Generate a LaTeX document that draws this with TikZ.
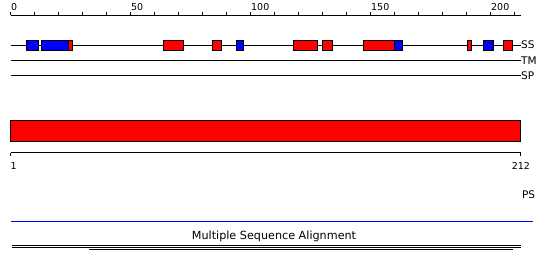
\documentclass[tikz,border=0pt]{standalone}
\usepackage{fontspec}
\setmainfont{DejaVu Sans}
\usepackage{tikz}
\usetikzlibrary{positioning}
\definecolor{ssred}{HTML}{FF0000}
\definecolor{ssblue}{HTML}{0000FF}

\begin{document}
\begin{tikzpicture}[x=1pt, y=-1pt, line width=1pt,
    ticklab/.style={font=\fontsize{9.5}{11}\selectfont, inner sep=0pt},
    tracklab/.style={font=\fontsize{10.5}{12}\selectfont, inner sep=0pt, anchor=west},
    ssbox/.style={draw=black, line width=0.9pt}]
\useasboundingbox (0,0) rectangle (550,271);
% Top ruler (residues 0..212)
\coordinate (rulL) at (10.7,15);
\coordinate (rulR) at (520.7,15);
\draw (rulL) -- (rulR);
\foreach \k in {0,...,21}{
    \draw ({10.7+24*\k},11.8) -- ({10.7+24*\k},15);
}
\foreach \lab/\k in {0/0, 50/5, 100/10, 150/15, 200/20}{
    \node[ticklab, anchor=base west] (tick\lab) at ({10.7+24*\k},10.5) {\lab};
}
% Tracks
\coordinate (ssL) at (10.7,45);
\coordinate (ssR) at (520.7,45);
\coordinate (tmL) at (10.7,60.3);
\coordinate (tmR) at (520.7,60.3);
\coordinate (spL) at (10.7,75.3);
\coordinate (spR) at (520.7,75.3);
\draw (ssL) -- (ssR) node[tracklab] (ss) {SS};
\draw (tmL) -- (tmR) node[tracklab] (tm) {TM};
\draw (spL) -- (spR) node[tracklab] (sp) {SP};
% Secondary structure elements
\foreach \a/\b/\c in {
    26.3/38.7/ssblue, 41.3/68/ssblue, 68/72.3/ssred,
    163.3/183.7/ssred, 212.3/221.7/ssred, 236.3/243.7/ssblue,
    293.3/317.7/ssred, 322.3/332.7/ssred, 363.3/394.7/ssred,
    394.7/402.7/ssblue, 467.3/471.7/ssred, 483.3/493.7/ssblue,
    503.3/512.3/ssred}{
    \draw[ssbox, fill=\c] (\a,40.6) rectangle (\b,50.4);
}
% Domain bar
\draw[ssbox, fill=ssred] (10.5,120.5) rectangle (520.2,141.5);
% Bottom ruler (1..212)
\coordinate (seqL) at (10.5,152.7);
\coordinate (seqR) at (520.7,152.7);
\draw (seqL) -- (seqR);
\draw (seqL) -- ++(0,3.2);
\draw (seqR) -- ++(0,3.2);
\node[ticklab, anchor=base west] (first) at (10.2,169.5) {1};
\node[ticklab, anchor=base east] (last) at (530.5,169.5) {212};
\node[tracklab, anchor=base west] (ps) at (521.5,198.5) {PS};
% Alignment
\coordinate (msaL) at (10.5,220.9);
\coordinate (msaR) at (533,222.1);
\fill[ssblue] (msaL) rectangle (msaR);
\node[font=\fontsize{11.2}{13}\selectfont, inner sep=0pt] (msa) at (274,236.3) {Multiple Sequence Alignment};
\draw (12.3,245.3) -- (520.7,245.3);
\draw (12.3,247.3) -- (520.7,247.3);
\draw (89.3,249.5) -- (512.7,249.5);
\end{tikzpicture}
\end{document}
